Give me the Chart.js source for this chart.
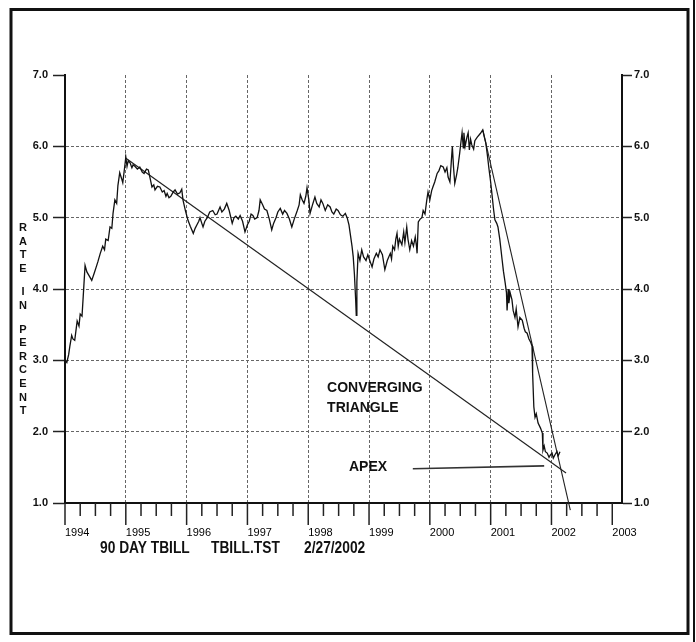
<!DOCTYPE html>
<html>
<head>
<meta charset="utf-8">
<script src="https://cdn.jsdelivr.net/npm/chart.js@4.4.0/dist/chart.umd.min.js"></script>
<style>
  html, body { margin: 0; padding: 0; background: #fff; }
  canvas { display: block; }
</style>
</head>
<body>
<canvas id="chart" width="696" height="642"></canvas>
<script>
// 90 day T-bill rate (decimal years)
const dates = [
  1994.00, 1994.03, 1994.06, 1994.08, 1994.11, 1994.13, 1994.16, 1994.20, 1994.23, 1994.25,
  1994.28, 1994.30, 1994.33, 1994.36, 1994.40, 1994.44, 1994.48, 1994.51, 1994.54, 1994.58,
  1994.62, 1994.65, 1994.67, 1994.71, 1994.74, 1994.77, 1994.79, 1994.82, 1994.85, 1994.87,
  1994.90, 1994.93, 1994.95, 1994.98,
  1995.00, 1995.02, 1995.04, 1995.07, 1995.10, 1995.12, 1995.15, 1995.19, 1995.23, 1995.27,
  1995.30, 1995.34, 1995.37, 1995.40, 1995.43, 1995.46, 1995.48, 1995.52, 1995.56, 1995.60,
  1995.63, 1995.66, 1995.68, 1995.71, 1995.74, 1995.78, 1995.81, 1995.85, 1995.89, 1995.92,
  1995.94, 1995.98,
  1996.02, 1996.06, 1996.11, 1996.14, 1996.17, 1996.20, 1996.22, 1996.25, 1996.27, 1996.30,
  1996.34, 1996.38, 1996.43, 1996.47, 1996.50, 1996.55, 1996.58, 1996.62, 1996.66, 1996.70,
  1996.75, 1996.78, 1996.81, 1996.85, 1996.88, 1996.92, 1996.96,
  1997.00, 1997.03, 1997.06, 1997.09, 1997.12, 1997.16, 1997.19, 1997.21, 1997.25, 1997.28,
  1997.32, 1997.36, 1997.40, 1997.43, 1997.47, 1997.50, 1997.54, 1997.58, 1997.61, 1997.65,
  1997.69, 1997.73, 1997.77, 1997.82, 1997.85, 1997.87, 1997.90, 1997.93, 1997.96, 1997.98,
  1998.01, 1998.03, 1998.07, 1998.11, 1998.14, 1998.18, 1998.21, 1998.24, 1998.28, 1998.32,
  1998.36, 1998.39, 1998.42, 1998.46, 1998.49, 1998.53, 1998.57, 1998.61, 1998.64, 1998.67,
  1998.69, 1998.72, 1998.74, 1998.76, 1998.78, 1998.79, 1998.80, 1998.82, 1998.85, 1998.88,
  1998.91, 1998.95, 1998.98,
  1999.02, 1999.05, 1999.08, 1999.12, 1999.15, 1999.18, 1999.22, 1999.26, 1999.30, 1999.35,
  1999.37, 1999.39, 1999.42, 1999.44, 1999.46, 1999.48, 1999.50, 1999.54, 1999.57, 1999.59,
  1999.62, 1999.64, 1999.67, 1999.70, 1999.73, 1999.76, 1999.78, 1999.79, 1999.81, 1999.84,
  1999.87, 1999.89, 1999.92, 1999.95, 1999.97,
  2000.00, 2000.03, 2000.05, 2000.08, 2000.12, 2000.15, 2000.18, 2000.22, 2000.25, 2000.28,
  2000.30, 2000.33, 2000.35, 2000.37, 2000.39, 2000.41, 2000.44, 2000.46, 2000.49, 2000.51,
  2000.53, 2000.55, 2000.56, 2000.58, 2000.61, 2000.63, 2000.65, 2000.67, 2000.69, 2000.72,
  2000.74, 2000.78, 2000.83, 2000.87, 2000.90, 2000.92, 2000.95, 2000.97,
  2001.00, 2001.02, 2001.05, 2001.07, 2001.10, 2001.12, 2001.15, 2001.19, 2001.21, 2001.24,
  2001.26, 2001.27, 2001.29, 2001.30, 2001.32, 2001.35, 2001.37, 2001.40, 2001.42, 2001.45,
  2001.48, 2001.52, 2001.55, 2001.57, 2001.60, 2001.63, 2001.66, 2001.68, 2001.69, 2001.71,
  2001.73, 2001.75, 2001.78, 2001.82, 2001.85, 2001.86, 2001.88, 2001.90, 2001.93, 2001.96,
  2001.98,
  2002.01, 2002.03, 2002.06, 2002.09, 2002.11, 2002.14
];
const rates = [
  3.00, 2.97, 3.08, 3.20, 3.35, 3.30, 3.28, 3.55, 3.48, 3.65,
  3.62, 3.90, 4.33, 4.24, 4.18, 4.12, 4.22, 4.30, 4.38, 4.50,
  4.60, 4.55, 4.70, 4.68, 4.87, 4.85, 5.06, 5.25, 5.20, 5.45,
  5.63, 5.55, 5.49, 5.70,
  5.85, 5.72, 5.80, 5.77, 5.70, 5.74, 5.72, 5.68, 5.71, 5.64,
  5.62, 5.68, 5.67, 5.55, 5.43, 5.46, 5.39, 5.44, 5.43, 5.36,
  5.38, 5.30, 5.34, 5.28, 5.30, 5.36, 5.39, 5.33, 5.35, 5.40,
  5.25, 5.10,
  4.97, 4.88, 4.78, 4.85, 4.90, 4.95, 5.00, 4.92, 4.87, 4.95,
  5.00, 5.08, 5.10, 5.04, 5.05, 5.15, 5.08, 5.12, 5.20, 5.10,
  4.92, 5.00, 5.02, 4.98, 5.03, 4.95, 4.80,
  4.90, 4.95, 5.05, 5.03, 4.98, 5.00, 5.10, 5.25, 5.18, 5.12,
  5.10, 4.98, 4.83, 4.92, 5.00, 5.08, 5.13, 5.05, 5.10, 5.06,
  4.98, 4.87, 4.98, 5.10, 5.18, 5.32, 5.25, 5.20, 5.30, 5.42,
  5.25, 5.06, 5.18, 5.29, 5.20, 5.15, 5.25, 5.20, 5.10, 5.18,
  5.15, 5.08, 5.05, 5.12, 5.10, 5.04, 5.02, 5.06, 5.00, 4.90,
  4.78, 4.60, 4.45, 4.20, 3.85, 3.63, 4.10, 4.50, 4.40, 4.55,
  4.45, 4.40, 4.48,
  4.38, 4.31, 4.42, 4.50, 4.45, 4.55, 4.48, 4.27, 4.40, 4.50,
  4.42, 4.60, 4.55, 4.70, 4.78, 4.60, 4.70, 4.62, 4.80, 4.65,
  4.87, 4.70, 4.55, 4.68, 4.60, 4.73, 4.60, 4.50, 4.94, 4.98,
  5.00, 5.10, 5.05, 5.25, 5.36,
  5.25, 5.38, 5.43, 5.50, 5.62, 5.66, 5.73, 5.71, 5.64, 5.70,
  5.57, 5.50, 5.75, 6.00, 5.70, 5.48, 5.60, 5.70, 5.90, 6.05,
  6.19, 5.98, 6.19, 6.00, 6.13, 6.19, 5.95, 6.10, 6.02, 5.96,
  6.08, 6.13, 6.18, 6.23, 6.12, 6.05, 5.85, 5.70,
  5.50, 5.34, 5.10, 4.97, 4.92, 4.87, 4.70, 4.40, 4.25, 4.08,
  3.95, 3.70, 4.00, 3.80, 3.95, 3.85, 3.70, 3.60, 3.72, 3.47,
  3.60, 3.56, 3.45, 3.40, 3.38, 3.30, 3.25, 3.20, 2.82, 2.35,
  2.20, 2.25, 2.12, 2.05, 1.98, 1.74, 1.80, 1.72, 1.70, 1.64,
  1.67,
  1.70, 1.63, 1.68, 1.72, 1.66, 1.72
];

// drawn trend lines (end points)
const upperLineX = [1994.99, 2002.24];
const upperLineY = [5.84, 1.42];
const steepLineX = [2000.87, 2002.31];
const steepLineY = [6.23, 0.90];
const apexLineX = [1999.72, 2001.88];
const apexLineY = [1.48, 1.52];

const yMin = 1, yMax = 7;
const xMin = 1994, xMax = 2003.16;
const yearLabels = [1994, 1995, 1996, 1997, 1998, 1999, 2000, 2001, 2002, 2003];
const yTitle = 'RATE IN PERCENT';
const footerText = ['90 DAY TBILL', 'TBILL.TST', '2/27/2002'];

const quarterTicks = [];
yearLabels.forEach((yr, i) => {
  quarterTicks.push(yr);
  if (i < yearLabels.length - 1) quarterTicks.push(yr + 0.25, yr + 0.5, yr + 0.75);
});

const toPoints = (xs, ys) => xs.map((x, i) => ({ x: x, y: ys[i] }));
const FONT = 'Liberation Sans, Arial, sans-serif';

const decor = {
  id: 'decor',
  afterDraw(chart) {
    const ctx = chart.ctx;
    const x = chart.scales.x, y = chart.scales.y;
    ctx.save();
    // quarter tick marks under the axis
    ctx.strokeStyle = '#222';
    ctx.lineWidth = 1.5;
    quarterTicks.forEach(v => {
      const px = x.getPixelForValue(v);
      const major = Number.isInteger(v);
      ctx.beginPath();
      ctx.moveTo(px, y.bottom);
      ctx.lineTo(px, y.bottom + (major ? 22 : 13));
      ctx.stroke();
    });

    ctx.fillStyle = '#111';
    ctx.textBaseline = 'middle';
    ctx.textAlign = 'center';
    // stacked y title
    ctx.font = 'bold 11px ' + FONT;
    let ty = 228;
    for (const ch of yTitle) {
      if (ch === ' ') { ty += 10; continue; }
      ctx.fillText(ch, 23, ty);
      ty += 13.6;
    }

    // annotations
    ctx.textAlign = 'left';
    ctx.font = 'bold 14px ' + FONT;
    ctx.fillText('CONVERGING', x.getPixelForValue(1998.31), y.getPixelForValue(2.61));
    ctx.fillText('TRIANGLE', x.getPixelForValue(1998.31), y.getPixelForValue(2.33));
    ctx.fillText('APEX', x.getPixelForValue(1998.67), y.getPixelForValue(1.50));

    // footer line, condensed
    ctx.font = 'bold 16px ' + FONT;
    const footX = [100, 211, 304];
    footerText.forEach((t, i) => {
      ctx.save();
      ctx.translate(footX[i], 549);
      ctx.scale(0.86, 1);
      ctx.fillText(t, 0, 0);
      ctx.restore();
    });

    // frame
    ctx.strokeStyle = '#111';
    ctx.lineWidth = 3;
    ctx.strokeRect(11, 9.5, 677, 624);
    ctx.lineWidth = 2;
    ctx.beginPath();
    ctx.moveTo(694, 0);
    ctx.lineTo(694, 642);
    ctx.stroke();
    ctx.restore();
  }
};

Chart.defaults.font.family = FONT;
Chart.defaults.color = '#111';

new Chart(document.getElementById('chart'), {
  type: 'line',
  data: {
    datasets: [
      { data: toPoints(dates, rates), borderColor: '#111', borderWidth: 1.3, pointRadius: 0, tension: 0 },
      { data: toPoints(upperLineX, upperLineY), borderColor: '#222', borderWidth: 1.2, pointRadius: 0 },
      { data: toPoints(steepLineX, steepLineY), borderColor: '#222', borderWidth: 1.1, pointRadius: 0, clip: false },
      { data: toPoints(apexLineX, apexLineY), borderColor: '#333', borderWidth: 1.6, pointRadius: 0 }
    ]
  },
  options: {
    responsive: false,
    animation: false,
    devicePixelRatio: 1,
    layout: { padding: { left: 0, right: 0, top: 75, bottom: 0 } },
    plugins: { legend: { display: false }, tooltip: { enabled: false } },
    scales: {
      x: {
        type: 'linear', min: xMin, max: xMax,
        afterBuildTicks: s => { s.ticks = quarterTicks.map(v => ({ value: v })); },
        afterFit: s => { s.height = 139; },
        grid: {
          color: c => (Number.isInteger(c.tick.value) && c.tick.value > 1994 && c.tick.value < 2003) ? '#666' : 'rgba(0,0,0,0)',
          lineWidth: 1,
          drawTicks: false
        },
        border: { color: '#111', width: 2, dash: [3, 2] },
        ticks: {
          autoSkip: false, maxRotation: 0, minRotation: 0, align: 'start', padding: 23,
          font: { size: 11 }, color: '#000',
          callback: v => Number.isInteger(v) ? String(v) : ''
        }
      },
      y: {
        position: 'left', min: yMin, max: yMax,
        afterFit: s => { s.width = 65; },
        grid: {
          color: c => (c.tick.value > yMin && c.tick.value < yMax) ? '#666' : 'rgba(0,0,0,0)',
          tickColor: '#222', tickLength: 12, tickWidth: 1.5
        },
        border: { color: '#111', width: 2, dash: [3, 2] },
        ticks: { stepSize: 1, padding: 5, font: { size: 11, weight: 'bold' }, color: '#111', callback: v => v.toFixed(1) }
      },
      y2: {
        position: 'right', min: yMin, max: yMax,
        afterFit: s => { s.width = 74; },
        grid: { drawOnChartArea: false, tickColor: '#222', tickLength: 10, tickWidth: 1.5 },
        border: { color: '#111', width: 2 },
        ticks: { stepSize: 1, padding: 2, font: { size: 11, weight: 'bold' }, color: '#111', callback: v => v.toFixed(1) }
      }
    }
  },
  plugins: [decor]
});
</script>
</body>
</html>
